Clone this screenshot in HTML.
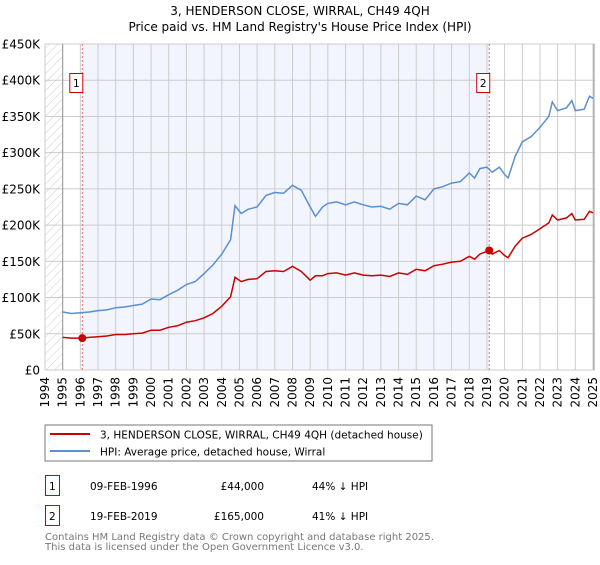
<!DOCTYPE html>
<html><head><meta charset="utf-8"><style>
body{margin:0;background:#fff;font-family:"Liberation Sans","DejaVu Sans",sans-serif;}
svg text{font-family:"DejaVu Sans","Liberation Sans",sans-serif;}
</style></head><body>
<svg id="c" width="600" height="560" xmlns="http://www.w3.org/2000/svg">
<defs><pattern id="h" width="6" height="6" patternUnits="userSpaceOnUse" patternTransform="rotate(45)"><line x1="0" y1="0" x2="0" y2="6" stroke="#ccc" stroke-width="1"/></pattern></defs>
<text x="300" y="15" text-anchor="middle" font-size="12" fill="#000">3, HENDERSON CLOSE, WIRRAL, CH49 4QH</text>
<text x="300" y="31" text-anchor="middle" font-size="12" fill="#000">Price paid vs. HM Land Registry's House Price Index (HPI)</text>
<g id="plot"></g>
<rect x="45" y="425" width="387" height="36" fill="#fff" stroke="#777"/>
<line x1="50" y1="434" x2="90" y2="434" stroke="#cc0000" stroke-width="2"/>
<text x="100" y="438.5" font-size="10.5">3, HENDERSON CLOSE, WIRRAL, CH49 4QH (detached house)</text>
<line x1="50" y1="451" x2="90" y2="451" stroke="#5b8fd0" stroke-width="2"/>
<text x="100" y="455.5" font-size="10.5">HPI: Average price, detached house, Wirral</text>
<g font-size="10.5" fill="#000">
<rect x="45.5" y="475.5" width="14" height="20" fill="none" stroke="#cc0000"/>
<text x="49" y="490">1</text>
<text x="90" y="490">09-FEB-1996</text>
<text x="264" y="490" text-anchor="end">£44,000</text>
<text x="312" y="490">44% ↓ HPI</text>
<rect x="45.5" y="505.5" width="14" height="20" fill="none" stroke="#cc0000"/>
<text x="49" y="520">2</text>
<text x="90" y="520">19-FEB-2019</text>
<text x="264" y="520" text-anchor="end">£165,000</text>
<text x="312" y="520">41% ↓ HPI</text>
</g>
<text x="45" y="540" font-size="10" fill="#777">Contains HM Land Registry data © Crown copyright and database right 2025.</text>
<text x="45" y="550" font-size="10" fill="#777">This data is licensed under the Open Government Licence v3.0.</text>
</svg>
<script>
const hpiYears=[1995,1995.5,1996,1996.5,1997,1997.5,1998,1998.5,1999,1999.5,2000,2000.5,2001,2001.5,2002,2002.5,2003,2003.5,2004,2004.5,2004.75,2005.1,2005.5,2006,2006.5,2007,2007.5,2008,2008.5,2009,2009.3,2009.7,2010,2010.5,2011,2011.5,2012,2012.5,2013,2013.5,2014,2014.5,2015,2015.5,2016,2016.5,2017,2017.5,2018,2018.3,2018.6,2019,2019.3,2019.7,2020,2020.2,2020.6,2021,2021.5,2022,2022.5,2022.7,2023,2023.5,2023.8,2024,2024.5,2024.8,2025];
const hpiValues=[80,78,79,80,82,83,86,87,89,91,98,97,104,110,118,122,133,145,160,180,227,216,222,225,241,245,244,255,248,225,212,225,230,232,228,232,228,225,226,222,230,228,240,235,250,253,258,260,272,265,278,280,273,280,270,265,295,315,322,335,350,370,358,362,372,358,360,378,375];
const propYears=[1995,1995.5,1996.1,1996.5,1997,1997.5,1998,1998.5,1999,1999.5,2000,2000.5,2001,2001.5,2002,2002.5,2003,2003.5,2004,2004.5,2004.75,2005.1,2005.5,2006,2006.5,2007,2007.5,2008,2008.5,2009,2009.3,2009.7,2010,2010.5,2011,2011.5,2012,2012.5,2013,2013.5,2014,2014.5,2015,2015.5,2016,2016.5,2017,2017.5,2018,2018.3,2018.6,2019.1,2019.3,2019.7,2020,2020.2,2020.6,2021,2021.5,2022,2022.5,2022.7,2023,2023.5,2023.8,2024,2024.5,2024.8,2025];
const propValues=[45,44,44,45,46,47,49,49,50,51,55,55,59,61,66,68,72,78,88,101,128,122,125,126,136,137,136,143,136,124,130,130,133,134,131,134,131,130,131,129,134,132,139,137,144,146,149,150,157,153,160,165,160,165,158,155,171,182,187,195,203,214,207,210,216,207,208,219,217];
const sales=[{n:"1",year:1996.11,value:44},{n:"2",year:2019.13,value:165}];
const yTicks=[0,50,100,150,200,250,300,350,400,450];
const yTickLabels=["£0","£50K","£100K","£150K","£200K","£250K","£300K","£350K","£400K","£450K"];
const xTicks=[];for(let y=1994;y<=2025;y++)xTicks.push(y);
const X0=45,X1=593,Y0=370,Y1=44;
const xs=v=>X0+(v-1994)/(2025-1994)*(X1-X0);
const ys=v=>Y0-v/450*(Y0-Y1);
const NS="http://www.w3.org/2000/svg";
const g=document.getElementById("plot");
function mk(t,a){const e=document.createElementNS(NS,t);for(const k in a)e.setAttribute(k,a[k]);g.appendChild(e);return e;}
let e;
e=mk("rect",{x:X0,y:Y1,width:X1-X0+2,height:Y0-Y1,fill:"#fff"});


e=mk("rect",{x:X0,y:Y1,width:xs(1995)-X0,height:Y0-Y1,fill:"url(#h)"});


e=mk("rect",{x:xs(sales[0].year),y:Y1,width:xs(sales[1].year)-xs(sales[0].year),height:Y0-Y1,fill:"#f2f5fd"});


xTicks.forEach(t=>{
 e=mk("line",{x1:xs(t),x2:xs(t),y1:Y1,y2:Y0,stroke:"#ccc","stroke-width":1});
 
 
 e=mk("text",{x:0,y:0,"font-size":12,"text-anchor":"end",transform:`translate(${xs(t)+4},${Y0+7}) rotate(-90)`});
 e.textContent=t;
 
 
});
yTicks.forEach((t,i)=>{
 e=mk("line",{x1:X0,x2:X1+2,y1:ys(t),y2:ys(t),stroke:"#ccc","stroke-width":1});
 
 
 e=mk("text",{x:40,y:ys(t)+4.5,"font-size":12,"text-anchor":"end"});
 e.textContent=yTickLabels[i];
 
 
});
e=mk("line",{x1:xs(1995),x2:xs(1995),y1:Y1,y2:Y0,stroke:"#999","stroke-width":1});


e=mk("line",{x1:X1+1,x2:X1+1,y1:Y1,y2:Y0,stroke:"#999","stroke-width":1});


sales.forEach(s=>{
 e=mk("line",{x1:xs(s.year),x2:xs(s.year),y1:Y1,y2:Y0,stroke:"#e66","stroke-width":1,"stroke-dasharray":"2,2"});
 
 
});
const pts=(a,b)=>a.map((v,i)=>xs(v).toFixed(1)+","+ys(b[i]).toFixed(1)).join(" ");
e=mk("polyline",{points:pts(hpiYears,hpiValues),fill:"none",stroke:"#5b8fd0","stroke-width":1.5});


e=mk("polyline",{points:pts(propYears,propValues),fill:"none",stroke:"#cc0000","stroke-width":1.5});


sales.forEach(s=>{
 e=mk("circle",{cx:xs(s.year),cy:ys(s.value),r:4,fill:"#cc0000"});
 
 
 e=mk("rect",{x:xs(s.year)-12.5,y:73.5,width:13,height:19,fill:"#fff",stroke:"#cc0000"});
 
 
 e=mk("text",{x:xs(s.year)-6,y:87,"font-size":10.5,"text-anchor":"middle"});
 e.textContent=s.n;
 
 
});
</script>
</body></html>
